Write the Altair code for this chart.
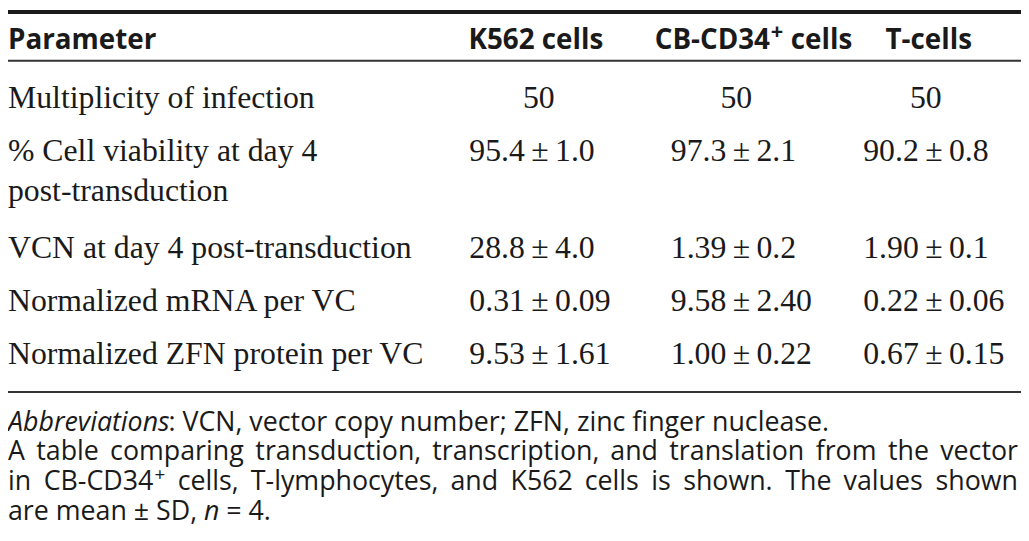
import altair as alt
import pandas as pd

# ---------------- data ----------------
headers = ["Parameter", "K562 cells", "CB-CD34", "+", "cells", "T-cells"]
parameters = [
    "Multiplicity of infection",
    "% Cell viability at day 4\npost-transduction",
    "VCN at day 4 post-transduction",
    "Normalized mRNA per VC",
    "Normalized ZFN protein per VC",
]
k562_mean = ["50", "95.4", "28.8", "0.31", "9.53"]
k562_sd = ["", "1.0", "4.0", "0.09", "1.61"]
cb_mean = ["50", "97.3", "1.39", "9.58", "1.00"]
cb_sd = ["", "2.1", "0.2", "2.40", "0.22"]
t_mean = ["50", "90.2", "1.90", "0.22", "0.67"]
t_sd = ["", "0.8", "0.1", "0.06", "0.15"]

abbrev_label = "Abbreviations"
abbrev_text = ": VCN, vector copy number; ZFN, zinc finger nuclease."
caption_lines = [
    "A table comparing transduction, transcription, and translation from the vector",
    "in CB-CD34^+ cells, T-lymphocytes, and K562 cells is shown. The values shown",
]
last_line_parts = ["are mean \u00b1 SD,", "n", "= 4."]

# ---------------- layout ----------------
W, H = 1021, 525
SERIF = "Liberation Serif"
SANS = "Open Sans"
INK = "#1a1a1a"
CAP_SIZE = 27
SUP_SIZE = 19
ITALIC_FACTOR = 0.925

# approximate Open Sans advance widths (units of 1/2048 em) for layout estimates
OS_W = {
    " ": 532, ",": 502, "-": 659, ".": 545, ":": 545, ";": 545, "=": 1171, "\u00b1": 1171, "+": 1171,
    "A": 1296, "B": 1327, "C": 1292, "D": 1493, "E": 1139, "F": 1057, "G": 1491, "H": 1511,
    "I": 571, "K": 1200, "L": 1073, "M": 1849, "N": 1544, "O": 1595, "P": 1233, "R": 1266,
    "S": 1124, "T": 1096, "V": 1243, "Z": 1147,
    "a": 1139, "b": 1255, "c": 975, "d": 1255, "e": 1149, "f": 694, "g": 1122, "h": 1257,
    "i": 518, "j": 518, "k": 1075, "l": 518, "m": 1905, "n": 1257, "o": 1237, "p": 1255,
    "q": 1255, "r": 836, "s": 977, "t": 723, "u": 1257, "v": 1026, "w": 1593, "x": 1073,
    "y": 1028, "z": 977,
}
for d in "0123456789":
    OS_W[d] = 1171


def tw(s, size=CAP_SIZE):
    return sum(OS_W.get(c, 1100) for c in s) / 2048 * size


header_baseline = 39
row_first = 99
row_pitch = 53.5
wrap_extra = 43.5
line_h = 40

row_y = []
y = row_first
for p in parameters:
    row_y.append(y)
    y += row_pitch + wrap_extra * p.count("\n")

value_left = [465, 668, 862]
value_center = [535, 734, 925]
header_center = [532, 928]
cb_plus_x = 775

xs = alt.Scale(domain=[0, W], range=[0, W], nice=False, zero=False)
ys = alt.Scale(domain=[0, H], range=[0, H], nice=False, zero=False)


def enc(chart):
    return chart.encode(
        x=alt.X("x:Q", scale=xs, axis=None),
        y=alt.Y("y:Q", scale=ys, axis=None),
        text="text:N",
    )


def fmt(m, s):
    return m if not s else f"{m}\u2009\u00b1\u2009{s}"


cols = [(k562_mean, k562_sd), (cb_mean, cb_sd), (t_mean, t_sd)]

# header
hdr_left = pd.DataFrame({"x": [0], "y": [header_baseline], "text": [headers[0]]})
hdr_center = pd.DataFrame({"x": header_center, "y": [header_baseline] * 2, "text": [headers[1], headers[5]]})
hdr_right = pd.DataFrame({"x": [cb_plus_x - 7], "y": [header_baseline], "text": [headers[2]]})
hdr_sup = pd.DataFrame({"x": [cb_plus_x], "y": [header_baseline - 10], "text": [headers[3]]})
hdr_after = pd.DataFrame({"x": [cb_plus_x + 14], "y": [header_baseline], "text": [headers[4]]})

# parameter column
par = pd.DataFrame({"x": [0] * len(parameters), "y": row_y, "text": parameters})

# values
vc_rows, vl_rows = [], []
for ci, (means, sds) in enumerate(cols):
    for ri, (m, s) in enumerate(zip(means, sds)):
        if not s:
            vc_rows.append({"x": value_center[ci], "y": row_y[ri], "text": fmt(m, s)})
        else:
            vl_rows.append({"x": value_left[ci], "y": row_y[ri], "text": fmt(m, s)})
vals_center = pd.DataFrame(vc_rows)
vals_left = pd.DataFrame(vl_rows)

# caption
cap_y0 = 424
cap_pitch = 30
cap_right_edge = 1018
reg_rows, right_rows, sup_rows = [], [], []

# first line: italic label + regular rest
italic_rows = [{"x": 0, "y": cap_y0, "text": abbrev_label}]
reg_rows.append({"x": ITALIC_FACTOR * tw(abbrev_label) + 1, "y": cap_y0, "text": abbrev_text})

# justified lines
for li, line in enumerate(caption_lines):
    yy = cap_y0 + (li + 1) * cap_pitch
    words = line.split(" ")
    pieces = []
    for wd in words:
        if "^" in wd:
            base, sup = wd.split("^")
            pieces.append((base, sup, tw(base) + tw(sup, SUP_SIZE) + 1))
        else:
            pieces.append((wd, "", tw(wd)))
    total = sum(p[2] for p in pieces)
    gap = max((cap_right_edge - total) / (len(pieces) - 1), 0.8 * tw(" "))
    x = 0.0
    for pi, (base, sup, wdt) in enumerate(pieces):
        if pi == len(pieces) - 1:
            right_rows.append({"x": cap_right_edge, "y": yy, "text": base})
        else:
            reg_rows.append({"x": x, "y": yy, "text": base})
            if sup:
                sup_rows.append({"x": x + tw(base) + 1, "y": yy - 9, "text": sup})
        x += wdt + gap

# last line with italic n
yy = cap_y0 + 3 * cap_pitch
x0 = 0
reg_rows.append({"x": x0, "y": yy, "text": last_line_parts[0]})
xn = x0 + tw(last_line_parts[0]) + tw(" ")
italic_rows.append({"x": xn, "y": yy, "text": last_line_parts[1]})
reg_rows.append({"x": xn + ITALIC_FACTOR * tw("n") + tw(" "), "y": yy, "text": last_line_parts[2]})

cap_italic = pd.DataFrame(italic_rows)
cap_regular = pd.DataFrame(reg_rows)
cap_right = pd.DataFrame(right_rows)
cap_sup = pd.DataFrame(sup_rows)

rules_thick = pd.DataFrame({"x": [0], "x2": [W], "y": [2]})
rules_thin = pd.DataFrame({"x": [0, 0], "x2": [W, W], "y": [51, 385]})

HDR = dict(baseline="alphabetic", font=SANS, fontSize=28, fontWeight="bold", color=INK)
SER = dict(baseline="alphabetic", font=SERIF, fontSize=32, color=INK)
CAP = dict(baseline="alphabetic", font=SANS, fontSize=CAP_SIZE, color=INK)

layers = [
    alt.Chart(rules_thick).mark_rule(strokeWidth=4, color=INK).encode(
        x=alt.X("x:Q", scale=xs, axis=None), x2="x2:Q", y=alt.Y("y:Q", scale=ys, axis=None)),
    alt.Chart(rules_thin).mark_rule(strokeWidth=2, color="#333333").encode(
        x=alt.X("x:Q", scale=xs, axis=None), x2="x2:Q", y=alt.Y("y:Q", scale=ys, axis=None)),
    enc(alt.Chart(hdr_left).mark_text(align="left", **HDR)),
    enc(alt.Chart(hdr_center).mark_text(align="center", **HDR)),
    enc(alt.Chart(hdr_right).mark_text(align="right", **HDR)),
    enc(alt.Chart(hdr_after).mark_text(align="left", **HDR)),
    enc(alt.Chart(hdr_sup).mark_text(align="center", baseline="alphabetic", font=SANS, fontSize=22, fontWeight="bold", color=INK)),
    enc(alt.Chart(par).mark_text(align="left", lineBreak="\n", lineHeight=line_h, **SER)),
    enc(alt.Chart(vals_center).mark_text(align="center", **SER)),
    enc(alt.Chart(vals_left).mark_text(align="left", **SER)),
    enc(alt.Chart(cap_italic).mark_text(align="left", fontStyle="italic", **CAP)),
    enc(alt.Chart(cap_regular).mark_text(align="left", **CAP)),
    enc(alt.Chart(cap_right).mark_text(align="right", **CAP)),
    enc(alt.Chart(cap_sup).mark_text(align="left", baseline="alphabetic", font=SANS, fontSize=SUP_SIZE, color=INK)),
]

chart = alt.layer(*layers).properties(
    width=W, height=H, padding=0,
    autosize=alt.AutoSizeParams(type="none"),
    background="white",
).configure_view(stroke=None)

chart.save("out.html", embed_options={"renderer": "svg", "actions": False})
